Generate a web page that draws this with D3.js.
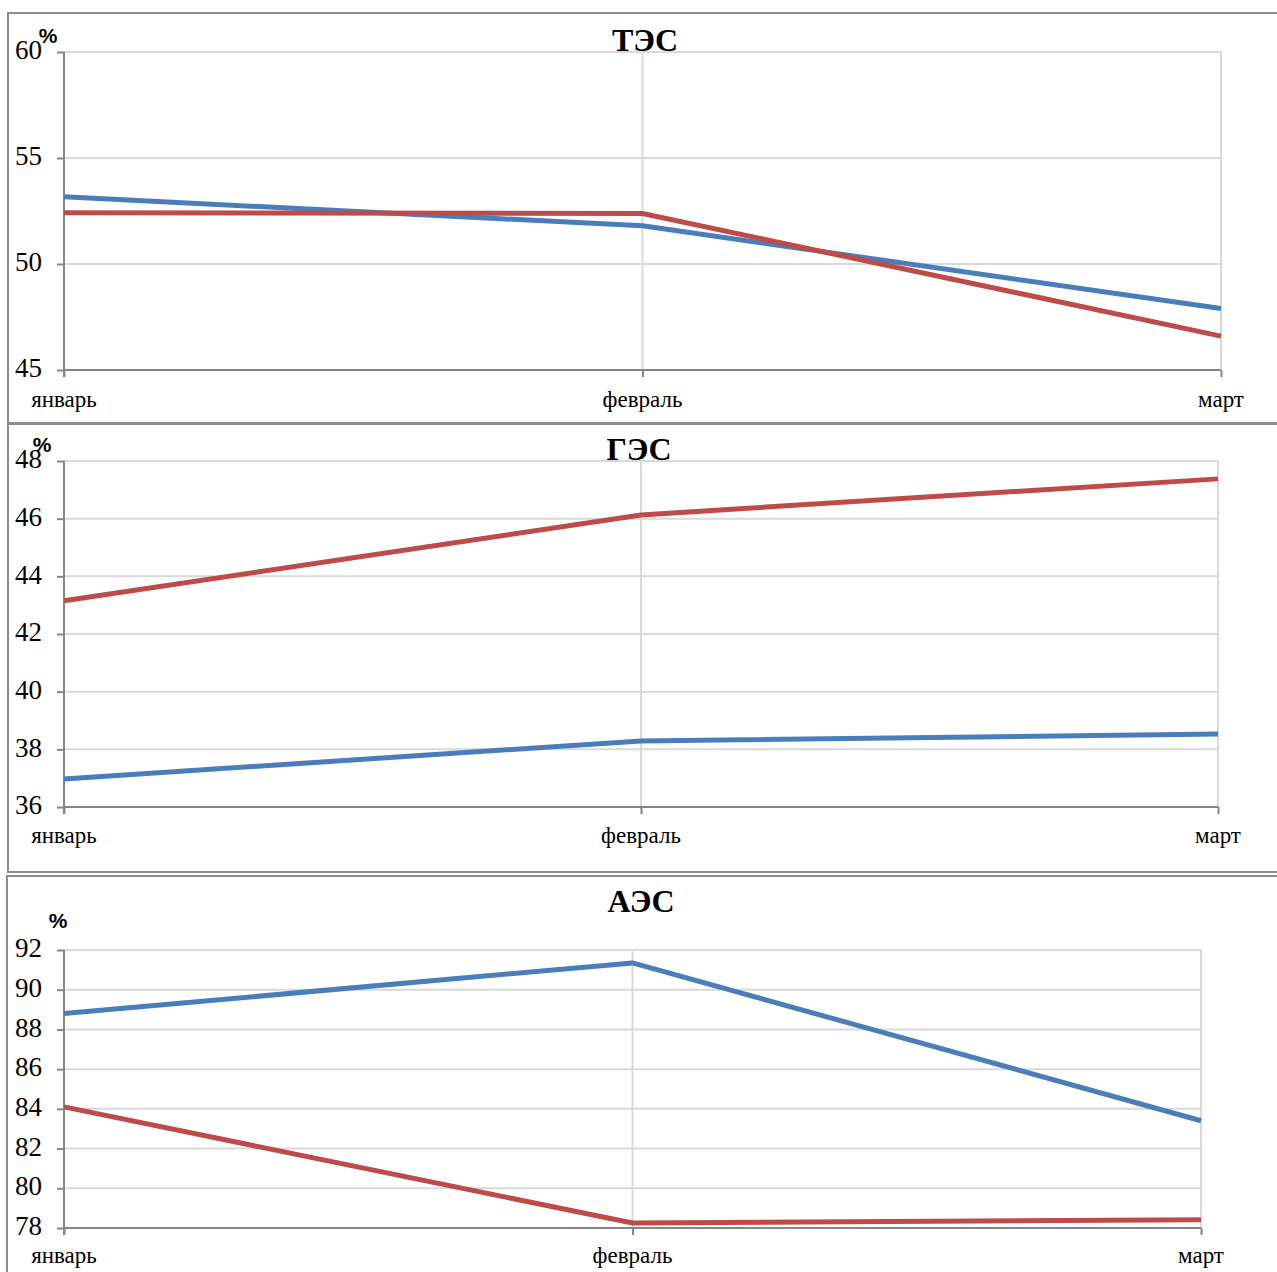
<!DOCTYPE html>
<html><head><meta charset="utf-8">
<script src="https://cdn.jsdelivr.net/npm/d3@7/dist/d3.min.js"></script>
<style>body{margin:0;background:#fff}svg{display:block}</style>
</head><body>
<script>
const months = ["январь", "февраль", "март"];
const titles = ["ТЭС", "ГЭС", "АЭС"];
const tesBlue = [53.17, 51.8, 47.9];
const tesRed = [52.42, 52.38, 46.6];
const gesBlue = [36.97, 38.29, 38.53];
const gesRed = [43.15, 46.13, 47.38];
const aesBlue = [88.8, 91.35, 83.4];
const aesRed = [84.1, 78.25, 78.42];
const tesTicks = [45, 50, 55, 60];
const gesTicks = [36, 38, 40, 42, 44, 46, 48];
const aesTicks = [78, 80, 82, 84, 86, 88, 90, 92];

const W = 1277, H = 1272;
const svg = d3.select("body").append("svg").attr("width", W).attr("height", H);
const SERIF = "'Liberation Serif', 'Times New Roman', serif";

const panels = [
  {frame:[8,13,1290,423], x0:64, x1:1221, yTop:52, yBot:370, dom:[45,60], ticks:tesTicks, blue:tesBlue, red:tesRed,
   title:titles[0], titleX:645, titleY:44, pctX:48, pctY:37, labelY:402},
  {frame:[8,424,1290,872], x0:64, x1:1218, yTop:461, yBot:807, dom:[36,48], ticks:gesTicks, blue:gesBlue, red:gesRed,
   title:titles[1], titleX:639, titleY:453, pctX:42, pctY:446, labelY:838},
  {frame:[7,876,1290,1290], x0:64, x1:1201, yTop:950, yBot:1228, dom:[78,92], ticks:aesTicks, blue:aesBlue, red:aesRed,
   title:titles[2], titleX:641, titleY:905, pctX:58, pctY:922, labelY:1258}
];

panels.forEach(p => {
  const g = svg.append("g");
  const [fx0, fy0, fx1, fy1] = p.frame;
  g.append("rect").attr("x", fx0).attr("y", fy0).attr("width", fx1 - fx0).attr("height", fy1 - fy0)
    .attr("fill", "none").attr("stroke", "#8c8c8c").attr("stroke-width", 2);

  const x = d3.scalePoint().domain(months).range([p.x0, p.x1]);
  const y = d3.scaleLinear().domain(p.dom).range([p.yBot, p.yTop]);

  g.selectAll(".hg").data(p.ticks.slice(1)).join("line")
    .attr("x1", p.x0).attr("x2", p.x1).attr("y1", d => y(d)).attr("y2", d => y(d))
    .attr("stroke", "#d9d9d9").attr("stroke-width", 2);
  g.selectAll(".vg").data(months.slice(1)).join("line")
    .attr("x1", d => x(d)).attr("x2", d => x(d)).attr("y1", p.yTop).attr("y2", p.yBot)
    .attr("stroke", "#d9d9d9").attr("stroke-width", 2);

  const yAxis = d3.axisLeft(y).tickValues(p.ticks).tickSize(7).tickFormat(() => "");
  const ya = g.append("g").attr("transform", `translate(${p.x0},0)`).call(yAxis);
  ya.select(".domain").attr("stroke", "#868686").attr("stroke-width", 2)
    .attr("d", `M0,${p.yTop}V${p.yBot + 7}`);
  ya.selectAll(".tick line").attr("stroke", "#868686").attr("stroke-width", 2);

  g.selectAll(".yl").data(p.ticks).join("text")
    .attr("x", p.x0 - 22).attr("y", d => y(d) + 1).attr("text-anchor", "end").attr("dominant-baseline", "middle")
    .style("font-family", SERIF).style("font-size", "27px").attr("fill", "#000").text(d => d);

  const xAxis = d3.axisBottom(x).tickSize(7).tickFormat(() => "");
  const xa = g.append("g").attr("transform", `translate(0,${p.yBot})`).call(xAxis);
  xa.select(".domain").attr("stroke", "#868686").attr("stroke-width", 2).attr("d", `M${p.x0},0H${p.x1}`);
  xa.selectAll(".tick line").attr("stroke", "#868686").attr("stroke-width", 2);

  g.selectAll(".ml").data(months).join("text")
    .attr("x", d => x(d)).attr("y", p.labelY).attr("text-anchor", "middle").attr("dominant-baseline", "middle")
    .style("font-family", SERIF).style("font-size", "23px").attr("fill", "#000").text(d => d);

  const line = d3.line().x((d, i) => x(months[i])).y(d => y(d));
  [[p.blue, "#4a7ebb"], [p.red, "#be4b48"]].forEach(([vals, col]) => {
    g.append("path").datum(vals).attr("d", line).attr("fill", "none").attr("stroke", col)
      .attr("stroke-width", 5).attr("stroke-linejoin", "round");
  });

  g.append("text").attr("x", p.titleX).attr("y", p.titleY).attr("text-anchor", "middle").attr("dominant-baseline", "middle")
    .style("font-family", SERIF).style("font-weight", "bold").style("font-size", "32px").attr("fill", "#000").text(p.title);
  g.append("text").attr("x", p.pctX).attr("y", p.pctY).attr("text-anchor", "middle").attr("dominant-baseline", "middle")
    .style("font-family", "'Liberation Sans', Arial, sans-serif").style("font-weight", "bold").style("font-size", "21px").attr("fill", "#000").text("%");
});
</script>
</body></html>
